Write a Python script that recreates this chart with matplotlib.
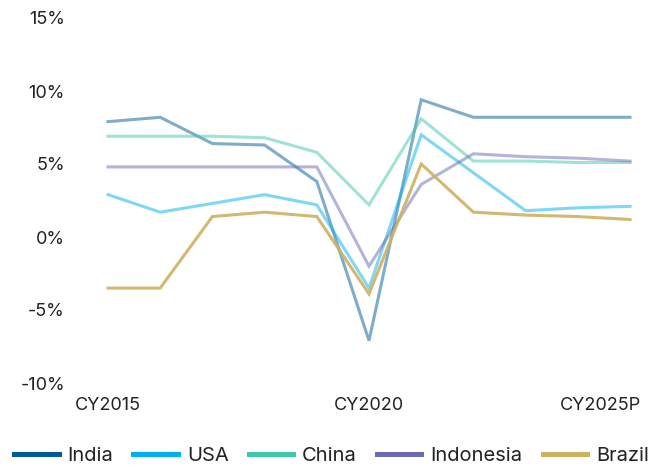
import matplotlib
matplotlib.use("Agg")
import matplotlib.pyplot as plt
from matplotlib.ticker import FuncFormatter

years = ["CY2015", "CY2016", "CY2017", "CY2018", "CY2019", "CY2020",
         "CY2021", "CY2022", "CY2023", "CY2024", "CY2025P"]
india = [7.9, 8.2, 6.4, 6.3, 3.8, -7.1, 9.4, 8.2, 8.2, 8.2, 8.2]
usa = [2.9, 1.7, 2.3, 2.9, 2.2, -3.5, 7.0, 4.4, 1.8, 2.0, 2.1]
china = [6.9, 6.9, 6.9, 6.8, 5.8, 2.2, 8.1, 5.2, 5.2, 5.1, 5.1]
indonesia = [4.8, 4.8, 4.8, 4.8, 4.8, -2.0, 3.6, 5.7, 5.5, 5.4, 5.2]
brazil = [-3.5, -3.5, 1.4, 1.7, 1.4, -3.9, 5.0, 1.7, 1.5, 1.4, 1.2]

series = [("India", india, "#005b96", 0.5),
          ("USA", usa, "#00b0f0", 0.5),
          ("China", china, "#3fc9a8", 0.5),
          ("Indonesia", indonesia, "#6b6bb3", 0.5),
          ("Brazil", brazil, "#cdb162", 0.9)]

tick_pos = [0, 5, 9.43]
tick_labels = ["CY2015", "CY2020", "CY2025P"]
yticks = [-10, -5, 0, 5, 10, 15]

plt.rcParams['font.family'] = ['Inter', 'DejaVu Sans']
fig = plt.figure(figsize=(6.63, 4.68), dpi=100)
W, H = 663, 468
x0 = 108 - 0.4 * 52.2
x1 = 630 + 0.4 * 52.2
ax = fig.add_axes([x0 / W, (H - 383) / H, (x1 - x0) / W, 365 / H])

x = list(range(len(years)))
handles = []
for name, vals, color, a in series:
    ax.plot(x, vals, color=color, alpha=a, lw=2.2, solid_joinstyle='miter')
    h, = ax.plot([], [], color=color, lw=3.6, label=name)
    handles.append(h)

ax.set_xlim(-0.4, 10.4)
ax.set_ylim(-10, 15)
ax.set_yticks(yticks)
ax.yaxis.set_major_formatter(FuncFormatter(lambda v, p: f"{v:.0f}%"))
ax.set_xticks(tick_pos)
ax.set_xticklabels(tick_labels)
ax.tick_params(axis='both', length=0, labelsize=13, colors='#222222')
ax.tick_params(axis='y', pad=16)
ax.tick_params(axis='x', pad=10)
for s in ax.spines.values():
    s.set_visible(False)

fig.legend(handles=handles, loc='center', ncol=5, frameon=False,
           fontsize=14.5, handlelength=2.2, handletextpad=0.45,
           columnspacing=1.0, borderpad=0, borderaxespad=0,
           bbox_to_anchor=(0.5, (H - 456) / H), labelcolor='#222222')

fig.savefig("out.png", dpi=100)
